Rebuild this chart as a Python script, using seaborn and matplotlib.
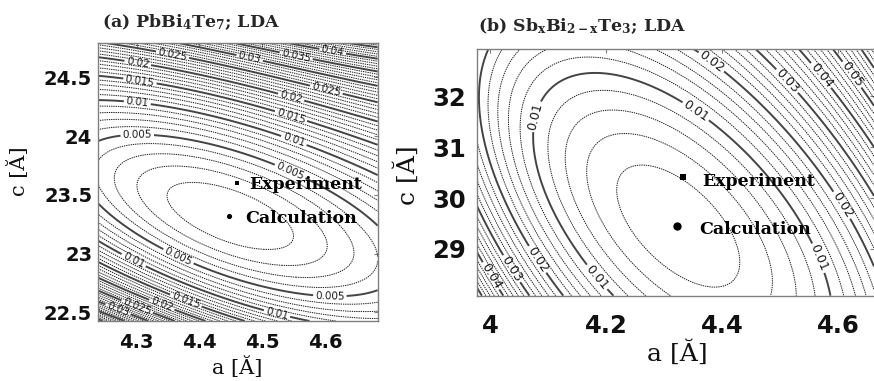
import numpy as np
import pandas as pd
import matplotlib
matplotlib.use("Agg")
import matplotlib.pyplot as plt
import seaborn as sns

# ------------------------------------------------------------------
# Values
# ------------------------------------------------------------------
# panel (a) PbBi4Te7
pa_title = r"(a) PbBi$_4$Te$_7$; LDA"
pa_xlim = [4.238, 4.684]
pa_ylim = [22.426, 24.79]
pa_xticks = [4.3, 4.4, 4.5, 4.6]
pa_yticks = [22.5, 23, 23.5, 24, 24.5]
pa_ytick_labels = ["22.5", "23", "23.5", "24", "24.5"]
pa_calc = [4.447, 23.319]
pa_exp = [4.460, 23.605]
# points traced on the contour lines: lattice a, lattice c, energy (eV)
pa_trace_a = [4.353, 4.549, 4.437, 4.496,
              4.237, 4.301, 4.348, 4.539, 4.544, 4.302, 4.334, 4.393, 4.592, 4.683,
              4.237, 4.301, 4.472, 4.549, 4.683, 4.234, 4.297, 4.472, 4.523,
              4.305, 4.544, 4.377,
              4.302, 4.544, 4.340,
              4.358, 4.600, 4.302,
              4.480, 4.270,
              4.555,
              4.612]
pa_trace_c = [23.481, 23.115, 23.583, 23.047,
              23.966, 23.992, 23.966, 23.711, 23.694, 23.158, 23.073, 22.920, 22.647, 22.707,
              24.290, 24.281, 24.154, 23.941, 23.822, 23.090, 22.962, 22.630, 22.477,
              24.460, 24.137, 22.579,
              24.630, 24.290, 22.563,
              24.715, 24.349, 22.563,
              24.664, 22.520,
              24.707,
              24.715]
pa_trace_e = [0.001] * 4 + [0.005] * 10 + [0.010] * 9 + [0.015] * 3 + \
             [0.020] * 3 + [0.025] * 3 + [0.030] * 2 + [0.035] + [0.040]
pa_minor_step = 0.001
pa_major_levels = [0.005, 0.01, 0.015, 0.02, 0.025, 0.03, 0.035, 0.04,
                   0.045, 0.05, 0.055, 0.06]
pa_label_pos = [(4.358, 24.715), (4.302, 24.630), (4.305, 24.460),
                (4.301, 24.281), (4.301, 23.992), (4.480, 24.664),
                (4.555, 24.707), (4.612, 24.715), (4.600, 24.349),
                (4.544, 24.290), (4.544, 24.137), (4.549, 23.941),
                (4.544, 23.694), (4.297, 22.962), (4.366, 22.970),
                (4.608, 22.664), (4.523, 22.477), (4.377, 22.579),
                (4.340, 22.563), (4.302, 22.563), (4.270, 22.520)]

# panel (b) SbxBi2-xTe3
pb_title = r"(b) Sb$_x$Bi$_{2-x}$Te$_3$; LDA"
pb_xlim = [3.978, 4.662]
pb_ylim = [28.08, 32.93]
pb_xticks = [4.0, 4.2, 4.4, 4.6]
pb_xtick_labels = ["4", "4.2", "4.4", "4.6"]
pb_yticks = [29, 30, 31, 32]
pb_calc = [4.3227, 29.456]
pb_exp = [4.3330, 30.407]
pb_trace_a = [4.228, 4.283, 4.340, 4.386, 4.415, 4.248, 4.294,
              4.059, 4.059, 4.070, 4.105, 4.145, 4.202, 4.260, 4.317, 4.386,
              4.432, 4.472, 4.518, 4.558, 4.581, 4.596, 4.064, 4.087, 4.122,
              4.162, 4.191, 4.219,
              4.374, 4.489, 4.610, 4.644, 4.087,
              4.507, 4.041,
              4.570, 4.007,
              4.633]
pb_trace_c = [29.751, 30.505, 30.341, 29.751, 28.965, 29.096, 28.572,
              31.061, 31.389, 31.978, 32.338, 32.436, 32.371, 32.175, 31.880, 31.389,
              30.929, 30.275, 29.621, 29.031, 28.572, 28.179, 30.407, 29.751, 29.228,
              28.768, 28.507, 28.147,
              32.568, 31.257, 29.882, 28.835, 28.835,
              32.240, 28.640,
              32.400, 28.507,
              32.500]
pb_trace_e = [0.002] * 7 + [0.010] * 21 + [0.020] * 5 + [0.030] * 2 + \
             [0.040] * 2 + [0.050]
pb_minor_step = 0.002
pb_major_levels = [0.01, 0.02, 0.03, 0.04, 0.05, 0.06, 0.07, 0.08]
pb_label_pos = [(4.0615, 31.650), (4.3514, 31.650), (4.3744, 32.568),
                (4.5065, 32.240), (4.5696, 32.400), (4.6328, 32.500),
                (4.6098, 29.882), (4.5696, 28.835), (4.1907, 28.507),
                (4.0873, 28.835), (4.0413, 28.640), (4.0069, 28.507)]


# ------------------------------------------------------------------
def fit_surface(ta, tc, te, a0, c0, sa, sc, inner_max):
    """Two-stage least-squares surface through the traced contour points.
    1) offset + quadratic bowl centred on the calculated lattice constants,
       fitted to the inner rings;  2) an anharmonic factor exp(L(X, Y)),
       L a low-order polynomial, fitted to all traced points with every
       contour level given the same total weight."""
    X = (np.asarray(ta) - a0) / sa
    Y = (np.asarray(tc) - c0) / sc
    E = np.asarray(te, dtype=float)
    m = E <= inner_max + 1e-12
    M1 = np.column_stack([np.ones(m.sum()), X[m] ** 2, X[m] * Y[m], Y[m] ** 2])
    w = 1.0 / E[m]
    e0, qa, qb, qc = np.linalg.lstsq(M1 * w[:, None], E[m] * w, rcond=None)[0]
    Q = qa * X ** 2 + qb * X * Y + qc * Y ** 2
    R = np.log(np.clip((E - e0) / Q, 1e-3, None))
    counts = {v: np.sum(np.isclose(E, v)) for v in np.unique(E)}
    w2 = np.array([1.0 / np.sqrt(counts[v]) for v in E])
    M2 = np.column_stack([X, Y, X ** 2, X * Y, Y ** 2])
    lc = np.linalg.lstsq(M2 * w2[:, None], R * w2, rcond=None)[0]

    def f(A, C):
        XX = (A - a0) / sa
        YY = (C - c0) / sc
        L = (lc[0] * XX + lc[1] * YY + lc[2] * XX ** 2 + lc[3] * XX * YY
             + lc[4] * YY ** 2)
        return e0 + (qa * XX ** 2 + qb * XX * YY + qc * YY ** 2) * np.exp(L)
    return f


def levels_from(step, majors, top):
    n = int(round(top / step))
    out = []
    for k in range(1, n + 1):
        v = round(k * step, 6)
        if not any(abs(v - m) < 1e-9 for m in majors):
            out.append(v)
    return out


sns.set_theme(style="white")
plt.rcParams["font.family"] = ["DejaVu Sans"]
plt.rcParams["mathtext.fontset"] = "dejavuserif"
plt.rcParams["mathtext.default"] = "bf"

W, H = 874, 381
fig = plt.figure(figsize=(W / 100, H / 100), dpi=100)
fig.patch.set_facecolor("white")


def px_axes(x0, y0, x1, y1):
    return fig.add_axes([x0 / W, 1 - y1 / H, (x1 - x0) / W, (y1 - y0) / H])


ax_a = px_axes(97.7, 43.3, 377.7, 321.0)
ax_b = px_axes(477.3, 49.0, 874.0, 295.7)

panels = [
    dict(ax=ax_a, xlim=pa_xlim, ylim=pa_ylim, calc=pa_calc, exp=pa_exp,
         ta=pa_trace_a, tc=pa_trace_c, te=pa_trace_e, sa=0.22, sc=1.2,
         step=pa_minor_step, majors=pa_major_levels, lpos=pa_label_pos,
         lsize=7.5, tick=14, xpad=9, ypad=4, lab=15,
         xl=(0.4975, -0.125), yl=(-0.245, 0.54),
         ms_dot=14, ms_sq=10, txt_dx=(9, 12), txt_dy=(-1.5, -1.5)),
    dict(ax=ax_b, xlim=pb_xlim, ylim=pb_ylim, calc=pb_calc, exp=pb_exp,
         ta=pb_trace_a, tc=pb_trace_c, te=pb_trace_e, sa=0.34, sc=2.4,
         step=pb_minor_step, majors=pb_major_levels, lpos=pb_label_pos,
         lsize=9, tick=17.5, xpad=13, ypad=8, lab=18,
         xl=(0.5047, -0.18), yl=(-0.145, 0.49),
         ms_dot=36, ms_sq=22, txt_dx=(14, 16), txt_dy=(-3, -3)),
]

for P in panels:
    ax = P["ax"]
    f = fit_surface(P["ta"], P["tc"], P["te"], P["calc"][0], P["calc"][1],
                    P["sa"], P["sc"], inner_max=P["majors"][0])
    ga = np.linspace(P["xlim"][0], P["xlim"][1], 400)
    gc = np.linspace(P["ylim"][0], P["ylim"][1], 400)
    A, C = np.meshgrid(ga, gc)
    Z = f(A, C)
    minor = levels_from(P["step"], P["majors"], P["majors"][-1])
    ax.contour(A, C, Z, levels=minor, colors="#1e1e1e", linewidths=0.7,
               linestyles=[(0, (1.4, 0.9))])
    cs = ax.contour(A, C, Z, levels=P["majors"], colors="#444444",
                    linewidths=1.4, linestyles="solid")
    ax.clabel(cs, fmt="%g", fontsize=P["lsize"], colors="#1a1a1a",
              inline=True, inline_spacing=2, manual=P["lpos"])

    pts = pd.DataFrame({"a": [P["exp"][0], P["calc"][0]],
                        "c": [P["exp"][1], P["calc"][1]],
                        "kind": ["Experiment", "Calculation"]})
    sns.scatterplot(data=pts[pts.kind == "Experiment"], x="a", y="c",
                    marker="s", s=P["ms_sq"], color="black", linewidth=0,
                    legend=False, ax=ax, zorder=5)
    sns.scatterplot(data=pts[pts.kind == "Calculation"], x="a", y="c",
                    marker="o", s=P["ms_dot"], color="black", linewidth=0,
                    legend=False, ax=ax, zorder=5)
    for (name, xy), dx, dy in zip([("Experiment", P["exp"]), ("Calculation", P["calc"])],
                                  P["txt_dx"], P["txt_dy"]):
        ax.annotate(name, xy, xytext=(dx, dy), textcoords="offset points",
                    ha="left", va="center", family="DejaVu Serif",
                    fontweight="bold", fontsize=12.5, color="black", zorder=6)

    ax.set_xlim(P["xlim"])
    ax.set_ylim(P["ylim"])
    ax.set_facecolor("white")
    for sp in ax.spines.values():
        sp.set_color("#808080")
        sp.set_linewidth(1.0)
    ax.tick_params(direction="in", length=3, width=0.8, color="#808080",
                   top=True, right=True, labelsize=P["tick"])
    ax.tick_params(axis="x", pad=P["xpad"])
    ax.tick_params(axis="y", pad=P["ypad"])
    ax.set_xlabel("a [Ă]", family="DejaVu Serif", fontsize=P["lab"], color="#111111")
    ax.set_ylabel("c [Ă]", family="DejaVu Serif", fontsize=P["lab"], color="#111111")
    ax.xaxis.set_label_coords(*P["xl"])
    ax.yaxis.set_label_coords(*P["yl"])

ax_a.set_xticks(pa_xticks)
ax_a.set_yticks(pa_yticks)
ax_a.set_yticklabels(pa_ytick_labels)
ax_b.set_xticks(pb_xticks)
ax_b.set_xticklabels(pb_xtick_labels)
ax_b.set_yticks(pb_yticks)
ax_b.spines["right"].set_visible(False)
for ax in (ax_a, ax_b):
    for t in ax.get_xticklabels() + ax.get_yticklabels():
        t.set_fontweight("bold")
        t.set_family("DejaVu Sans")
        t.set_color("#111111")

fig.text(102 / W, 1 - 27 / H, pa_title, family="DejaVu Serif", fontweight="bold",
         fontsize=12.5, va="baseline", ha="left")
fig.text(478 / W, 1 - 31.5 / H, pb_title, family="DejaVu Serif", fontweight="bold",
         fontsize=12.5, va="baseline", ha="left")

fig.savefig("out.png", dpi=100, facecolor="white")
